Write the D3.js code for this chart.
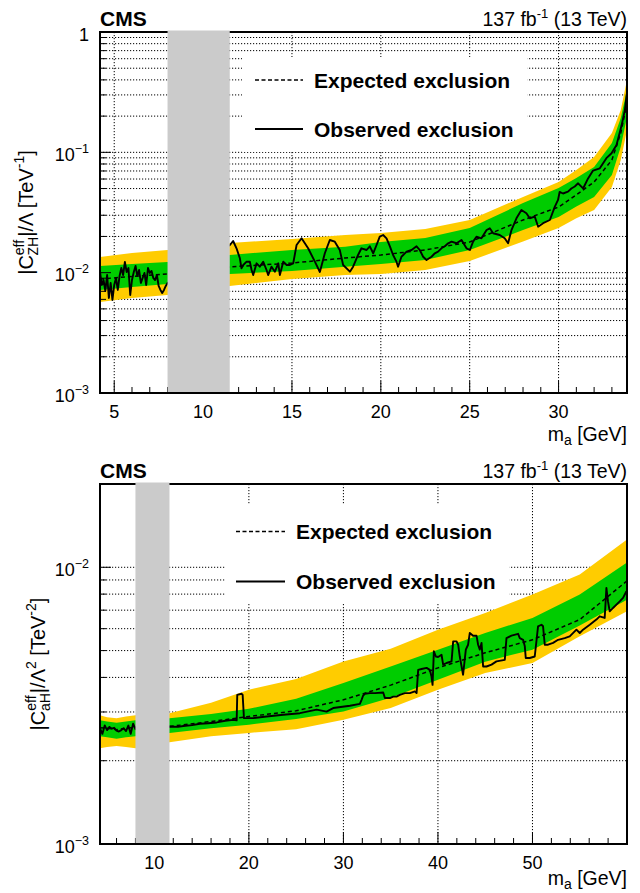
<!DOCTYPE html>
<html>
<head>
<meta charset="utf-8">
<script src="https://cdn.jsdelivr.net/npm/d3@7"></script>
<style>
  body { margin: 0; background: #fff; }
  svg text { font-family: "Liberation Sans", Arial, Helvetica, sans-serif; fill: #000; }
</style>
</head>
<body>
<svg id="chart" width="640" height="893"></svg>
<script>
// ---- upper panel: |C_ZH|/Lambda limit vs m_a ----
const zhMass = [4.2, 6, 8, 11.5, 15, 18, 20, 22.5, 25, 28, 30, 31, 32, 33, 33.5, 33.85]
const zhYellowHi = [0.0135, 0.01457, 0.01543, 0.01765, 0.01905, 0.02056, 0.02137, 0.0231, 0.0274, 0.0426, 0.0567, 0.0713, 0.0915, 0.1448, 0.2248, 0.399]
const zhGreenHi = [0.01136, 0.0118, 0.01227, 0.01403, 0.01543, 0.01645, 0.01799, 0.01942, 0.0235, 0.0379, 0.0505, 0.0612, 0.0755, 0.1196, 0.1929, 0.330]
const zhExpected = [0.00886, 0.0093, 0.00975, 0.01115, 0.01203, 0.01324, 0.01403, 0.01543, 0.01799, 0.0274, 0.0351, 0.0443, 0.0567, 0.0864, 0.1448, 0.257]
const zhGreenLo = [0.00718, 0.0076, 0.00805, 0.00975, 0.01033, 0.01121, 0.0118, 0.01275, 0.01543, 0.02262, 0.0290, 0.0354, 0.0426, 0.0648, 0.1114, 0.1966]
const zhYellowLo = [0.0057, 0.00616, 0.00652, 0.00775, 0.00886, 0.00956, 0.00975, 0.01052, 0.0125, 0.01812, 0.0235, 0.02832, 0.0332, 0.0515, 0.0864, 0.1533]

const zhObsMass = [4.2, 4.3, 4.4, 4.5, 4.6, 4.7, 4.8, 4.9, 5.0, 5.1, 5.2, 5.3, 5.4, 5.5, 5.6, 5.7, 5.8, 5.9, 6.0, 6.1,
    6.2, 6.3, 6.4, 6.5, 6.6, 6.7, 6.8, 6.9, 7.0, 7.1, 7.2, 7.3, 7.4, 7.5, 7.6, 7.7, 7.8, 7.9, 8.0,
    11.51, 11.69, 11.88, 12.07, 12.16, 12.26, 12.45, 12.63, 12.73, 12.82, 13.01, 13.19, 13.38, 13.57, 13.66, 13.85,
    14.04, 14.23, 14.32, 14.51, 14.70, 14.88, 15.07, 15.26, 15.54, 15.91, 16.29, 16.57, 16.85, 17.13, 17.41, 17.69,
    17.88, 18.26, 18.44, 18.72, 18.91, 19.20, 19.38, 19.57, 19.76, 19.94, 20.13, 20.32, 20.51, 20.69, 20.88, 20.97,
    21.16, 21.45, 21.73, 22.01, 22.19, 22.38, 22.57, 22.85, 23.04, 23.22, 23.41, 23.60, 23.79, 23.98, 24.26, 24.54,
    24.82, 25.01, 25.19, 25.38, 25.66, 25.95, 26.13, 26.32, 26.69, 26.97, 27.16, 27.35, 27.63, 27.91, 28.19, 28.38,
    28.66, 28.85, 29.13, 29.51, 29.79, 29.97, 30.06, 30.25, 30.53, 30.72, 30.91, 31.10, 31.38, 31.66, 31.94, 32.32,
    32.69, 32.98, 33.26, 33.54, 33.73, 33.84]
const zhObserved = [0.01013, 0.0079, 0.00869, 0.00704, 0.00956, 0.00616, 0.00821, 0.00593, 0.0079, 0.00903, 0.00718, 0.00938, 0.01093, 0.00956, 0.01227, 0.01013, 0.01093, 0.00652, 0.00869, 0.01013,
    0.01136, 0.00938, 0.01052, 0.00821, 0.00903, 0.00994, 0.0079, 0.01093, 0.00994, 0.01033, 0.00903, 0.00869, 0.00956, 0.00775, 0.00718, 0.00678, 0.00718, 0.00775, 0.00821,
    0.01698, 0.01833, 0.01594, 0.01316, 0.01087, 0.01158, 0.01234, 0.01234, 0.01052, 0.00956, 0.01196, 0.01121, 0.01234, 0.01052, 0.00956, 0.01121,
    0.01019, 0.01196, 0.00956, 0.01234, 0.01158, 0.01158, 0.01196, 0.01698, 0.0193, 0.01594, 0.01234, 0.01013, 0.01449, 0.01869, 0.0181, 0.01543,
    0.01158, 0.01019, 0.01121, 0.01403, 0.01594, 0.01543, 0.01656, 0.01449, 0.01698, 0.0199, 0.02056, 0.0193, 0.01656, 0.01403, 0.01234, 0.01121,
    0.01357, 0.01494, 0.01543, 0.01656, 0.01543, 0.01357, 0.01275, 0.01357, 0.01449, 0.01494, 0.01594, 0.01656, 0.01755, 0.0181, 0.01755, 0.01869,
    0.01594, 0.01543, 0.0181, 0.0199, 0.0193, 0.02262, 0.02337, 0.02125, 0.02056, 0.0193, 0.01755, 0.02262, 0.02832, 0.0332, 0.03115, 0.02832,
    0.02922, 0.0241, 0.02577, 0.0274, 0.0354, 0.0402, 0.0469, 0.0455, 0.0471, 0.0501, 0.052, 0.0553, 0.0501, 0.0607, 0.0705, 0.0736,
    0.0894, 0.0983, 0.1151, 0.166, 0.2248, 0.306]

const zhGap = [8, 11.5]
const zhXTicks = [5, 10, 15, 20, 25, 30]
const zhYTicks = [0.001, 0.01, 0.1, 1]
const zhYTickLabels = [['10', '−3'], ['10', '−2'], ['10', '−1'], ['1', '']]

// ---- lower panel: |C_aH|/Lambda^2 limit vs m_a ----
const ahMass = [4.25, 5, 6, 7, 8, 11.6, 16, 20, 25, 30, 35, 40, 45, 50, 55, 60]
const ahYellowHi = [0.00292, 0.00287, 0.00285, 0.00289, 0.00292, 0.00297, 0.00324, 0.00361, 0.00395, 0.00457, 0.00508, 0.00595, 0.00684, 0.00797, 0.00941, 0.0126]
const ahGreenHi = [0.0028, 0.00277, 0.00274, 0.00277, 0.0028, 0.00285, 0.00295, 0.00308, 0.00335, 0.00382, 0.00438, 0.00504, 0.00579, 0.00656, 0.00797, 0.0104]
const ahExpected = [0.00263, 0.00262, 0.00259, 0.00262, 0.00264, 0.00266, 0.00277, 0.00289, 0.00303, 0.00332, 0.00375, 0.00433, 0.00491, 0.00547, 0.00647, 0.00893]
const ahGreenLo = [0.00245, 0.00243, 0.0024, 0.00243, 0.00245, 0.00252, 0.00262, 0.0027, 0.00283, 0.00301, 0.00338, 0.00392, 0.00456, 0.00504, 0.00616, 0.00764]
const ahYellowLo = [0.00222, 0.00224, 0.00226, 0.00224, 0.00222, 0.00233, 0.00245, 0.00252, 0.0026, 0.00281, 0.0031, 0.00361, 0.00415, 0.00451, 0.00563, 0.00693]

const ahObsMass = [4.25, 4.5, 4.75, 5, 5.25, 5.5, 5.75, 6, 6.25, 6.5, 6.75, 7, 7.25, 7.5, 7.75, 8,
    11.66, 12.5, 13.07, 14.0, 14.83, 15.7, 16.6, 17.5, 18.35, 18.71, 18.77, 19.24, 19.34, 19.48, 20.47, 21.88,
    23.64, 25.40, 27.17, 28.22, 28.92, 30.69, 31.74, 31.92, 32.09, 32.27, 32.80, 33.33, 34.21, 34.39, 34.92, 35.27,
    35.62, 35.97, 36.50, 37.03, 37.56, 37.74, 37.91, 38.27, 38.80, 39.14, 39.32, 39.43, 39.57, 39.78, 40.02, 40.38,
    40.55, 40.91, 41.44, 41.61, 41.97, 42.14, 42.31, 42.66, 42.95, 43.19, 43.37, 43.72, 44.08, 44.25, 44.43, 44.61,
    44.78, 45.14, 45.67, 46.19, 47.07, 47.25, 47.78, 48.48, 48.66, 49.01, 49.19, 49.29, 49.71, 50.24, 50.59, 50.95,
    51.12, 51.30, 51.65, 52.18, 52.71, 53.41, 53.94, 54.65, 55.00, 55.35, 56.06, 56.76, 57.11, 57.64, 57.82, 57.99,
    58.17, 58.52, 58.88, 59.23, 59.58, 59.94]
const ahObserved = [0.00262, 0.0025, 0.00268, 0.00258, 0.00265, 0.00261, 0.00263, 0.00257, 0.00255, 0.00258, 0.00262, 0.00256, 0.00268, 0.0025, 0.00272, 0.0026,
    0.00266, 0.00265, 0.00267, 0.00269, 0.00272, 0.00273, 0.00275, 0.00279, 0.00281, 0.0028, 0.00346, 0.00349, 0.00346, 0.00285, 0.00285, 0.00289,
    0.00293, 0.00297, 0.00306, 0.00301, 0.0031, 0.00316, 0.00321, 0.00332, 0.00344, 0.00349, 0.00351, 0.00351, 0.00353, 0.00337, 0.00337, 0.00341,
    0.00341, 0.00346, 0.00351, 0.00351, 0.00356, 0.00351, 0.00426, 0.00429, 0.00433, 0.00426, 0.00403, 0.00376, 0.00497, 0.00476, 0.00474, 0.00483,
    0.00445, 0.00451, 0.00457, 0.0054, 0.0054, 0.00525, 0.00476, 0.00409, 0.00504, 0.00525, 0.00579, 0.00566, 0.00566, 0.00525, 0.00504, 0.00533,
    0.00438, 0.00438, 0.00445, 0.00457, 0.00463, 0.00555, 0.00566, 0.00575, 0.00555, 0.00547, 0.00518, 0.0047, 0.0047, 0.00476, 0.00612, 0.0062,
    0.00612, 0.00525, 0.00525, 0.00533, 0.00547, 0.00555, 0.00563, 0.00595, 0.00579, 0.00595, 0.0062, 0.00647, 0.00665, 0.00656, 0.00842, 0.00753,
    0.00693, 0.00713, 0.00733, 0.00753, 0.00775, 0.00819]

const ahGap = [8, 11.6]
const ahXTicks = [10, 20, 30, 40, 50]
const ahYTicks = [0.001, 0.01]
const ahYTickLabels = [['10', '−3'], ['10', '−2']]

const svg = d3.select('#chart')

function drawPanel(p) {
    let g = svg.append('g')
    let x = d3.scaleLinear().domain(p.xDomain).range([p.left, p.right])
    let y = d3.scaleLog().domain(p.yDomain).range([p.bottom, p.top])

    svg.append('clipPath').attr('id', 'clip' + p.id)
        .append('rect')
        .attr('x', p.left).attr('y', p.top)
        .attr('width', p.right - p.left).attr('height', p.bottom - p.top)

    //dotted grid
    let grid = g.append('g').attr('stroke', '#000').attr('stroke-width', 1).attr('stroke-dasharray', '1.2,1.8')
    let yGrid = y.ticks().filter(function (d) {
        return d > p.yDomain[0] * 1.001 && d < p.yDomain[1] * 0.999
    })
    grid.selectAll('.hgrid').data(yGrid).enter().append('line')
        .attr('x1', p.left).attr('x2', p.right)
        .attr('y1', d => y(d)).attr('y2', d => y(d))
    grid.selectAll('.vgrid').data(p.xTicks).enter().append('line')
        .attr('x1', d => x(d)).attr('x2', d => x(d))
        .attr('y1', p.top).attr('y2', p.bottom)

    //legend box hides the grid
    g.append('rect').attr('x', p.legend.x).attr('y', p.legend.y)
        .attr('width', p.legend.w).attr('height', p.legend.h).attr('fill', '#fff')

    let rows = p.mass.map(function (m, i) {
        return {m: m, yLo: p.yellowLo[i], gLo: p.greenLo[i], exp: p.expected[i], gHi: p.greenHi[i], yHi: p.yellowHi[i]}
    })
    let obs = p.obsMass.map(function (m, i) {
        return {m: m, v: p.observed[i]}
    })

    let plot = g.append('g').attr('clip-path', `url(#clip${p.id})`)
    plot.append('path').datum(rows)
        .attr('fill', '#ffcc00')
        .attr('d', d3.area().x(d => x(d.m)).y0(d => y(d.yLo)).y1(d => y(d.yHi)))
    plot.append('path').datum(rows)
        .attr('fill', '#00cc00')
        .attr('d', d3.area().x(d => x(d.m)).y0(d => y(d.gLo)).y1(d => y(d.gHi)))
    plot.append('path').datum(rows)
        .attr('fill', 'none').attr('stroke', '#000').attr('stroke-width', 1.5)
        .attr('stroke-dasharray', '4,3')
        .attr('d', d3.line().x(d => x(d.m)).y(d => y(d.exp)))
    plot.append('path').datum(obs)
        .attr('fill', 'none').attr('stroke', '#000').attr('stroke-width', 1.9)
        .attr('stroke-linejoin', 'round')
        .attr('d', d3.line().x(d => x(d.m)).y(d => y(d.v)))

    //ticks inside the frame
    let ticks = g.append('g').attr('stroke', '#000').attr('stroke-width', 1)
    ticks.selectAll('.xmin').data(p.xMinor).enter().append('line')
        .attr('x1', d => x(d)).attr('x2', d => x(d))
        .attr('y1', p.bottom).attr('y2', p.bottom - 6)
    ticks.selectAll('.xmaj').data(p.xTicks).enter().append('line')
        .attr('x1', d => x(d)).attr('x2', d => x(d))
        .attr('y1', p.bottom).attr('y2', p.bottom - 12)
    ticks.selectAll('.ymin').data(yGrid).enter().append('line')
        .attr('x1', p.left).attr('x2', d => p.left + (p.yTicks.indexOf(d) >= 0 ? 11 : 6))
        .attr('y1', d => y(d)).attr('y2', d => y(d))

    g.append('rect').attr('x', p.left).attr('y', p.top)
        .attr('width', p.right - p.left).attr('height', p.bottom - p.top)
        .attr('fill', 'none').attr('stroke', '#000').attr('stroke-width', 2)

    //excluded mass window
    g.append('rect')
        .attr('x', x(p.gap[0])).attr('y', p.top - 1.5)
        .attr('width', x(p.gap[1]) - x(p.gap[0])).attr('height', p.bottom - p.top + 0.5)
        .attr('fill', '#cbcbcb')

    //tick labels
    g.selectAll('.xlab').data(p.xTicks).enter().append('text')
        .attr('x', d => x(d)).attr('y', p.bottom + 25)
        .attr('text-anchor', 'middle').attr('font-size', 18)
        .text(d => d)
    let ylab = g.selectAll('.ylab').data(p.yTicks).enter().append('text')
        .attr('x', 89).attr('y', d => y(d) + 8.5)
        .attr('text-anchor', 'end').attr('font-size', 18)
    ylab.append('tspan').text((d, i) => p.yLabels[i][0])
    ylab.append('tspan').attr('font-size', 12.5).attr('dy', -8)
        .text((d, i) => p.yLabels[i][1])

    //legend
    let leg = g.append('g')
    leg.append('line').attr('x1', p.legend.sx0).attr('x2', p.legend.sx1)
        .attr('y1', p.legend.y1).attr('y2', p.legend.y1)
        .attr('stroke', '#000').attr('stroke-width', 1.3).attr('stroke-dasharray', '4,2.5')
    leg.append('line').attr('x1', p.legend.sx0).attr('x2', p.legend.sx1)
        .attr('y1', p.legend.y2).attr('y2', p.legend.y2)
        .attr('stroke', '#000').attr('stroke-width', 1.8)
    leg.append('text').attr('x', p.legend.tx).attr('y', p.legend.y1 + 7.5)
        .attr('font-size', 21).attr('font-weight', 'bold').text('Expected exclusion')
    leg.append('text').attr('x', p.legend.tx).attr('y', p.legend.y2 + 7.5)
        .attr('font-size', 21).attr('font-weight', 'bold').text('Observed exclusion')

    //titles
    g.append('text').attr('x', p.left).attr('y', p.top - 6)
        .attr('font-size', 21).attr('font-weight', 'bold').text('CMS')
    let lumi = g.append('text').attr('x', p.right).attr('y', p.top - 6)
        .attr('text-anchor', 'end').attr('font-size', 19.5)
    lumi.append('tspan').text('137 fb')
    lumi.append('tspan').attr('font-size', 13).attr('dy', -8).text('-1')
    lumi.append('tspan').attr('dy', 8).text(' (13 TeV)')

    let xt = g.append('text').attr('x', p.right).attr('y', p.xTitleY)
        .attr('text-anchor', 'end').attr('font-size', 19.5)
    xt.append('tspan').text('m')
    xt.append('tspan').attr('font-size', 14).attr('dy', 4).text('a')
    xt.append('tspan').attr('dy', -4).text(' [GeV]')

    let yt = g.append('text')
        .attr('transform', `translate(${p.yTitleX},${(p.top + p.bottom) / 2}) rotate(-90)`)
        .attr('text-anchor', 'middle').attr('font-size', 20)
    yt.append('tspan').text('|C')
    yt.append('tspan').attr('font-size', 14).attr('dy', -9).text('eff')
    yt.append('tspan').attr('font-size', 14).attr('dx', -15.6).attr('dy', 14).text(p.coupling)
    yt.append('tspan').attr('dy', -5).text('|/Λ')
    if (p.lambdaPow) {
        yt.append('tspan').attr('font-size', 14).attr('dy', -9).text(p.lambdaPow)
        yt.append('tspan').attr('dy', 9).text(' [TeV')
    } else {
        yt.append('tspan').text(' [TeV')
    }
    yt.append('tspan').attr('font-size', 14).attr('dy', -9).text(p.unitPow)
    yt.append('tspan').attr('dy', 9).text(']')
}

drawPanel({
    id: 'zh', left: 100, right: 627, top: 32, bottom: 393,
    xDomain: [4.2, 33.85], yDomain: [0.001, 1],
    mass: zhMass, yellowLo: zhYellowLo, greenLo: zhGreenLo, expected: zhExpected, greenHi: zhGreenHi, yellowHi: zhYellowHi,
    obsMass: zhObsMass, observed: zhObserved, gap: zhGap,
    xTicks: zhXTicks, xMinor: d3.range(5, 34, 1).filter(d => d % 5 !== 0),
    yTicks: zhYTicks, yLabels: zhYTickLabels,
    legend: {x: 242, y: 57, w: 285, h: 95, sx0: 255, sx1: 303, tx: 314, y1: 80, y2: 129},
    xTitleY: 441, yTitleX: 33, coupling: 'ZH', lambdaPow: '', unitPow: '-1'
})

drawPanel({
    id: 'ah', left: 100, right: 627, top: 484, bottom: 844,
    xDomain: [4.25, 60], yDomain: [0.001, 0.02],
    mass: ahMass, yellowLo: ahYellowLo, greenLo: ahGreenLo, expected: ahExpected, greenHi: ahGreenHi, yellowHi: ahYellowHi,
    obsMass: ahObsMass, observed: ahObserved, gap: ahGap,
    xTicks: ahXTicks, xMinor: d3.range(6, 60, 2).filter(d => d % 10 !== 0),
    yTicks: ahYTicks, yLabels: ahYTickLabels,
    legend: {x: 225, y: 505, w: 284, h: 98, sx0: 236, sx1: 285, tx: 296, y1: 531.5, y2: 581.5},
    xTitleY: 885, yTitleX: 45, coupling: 'aH', lambdaPow: '2', unitPow: '-2'
})
</script>
</body>
</html>
